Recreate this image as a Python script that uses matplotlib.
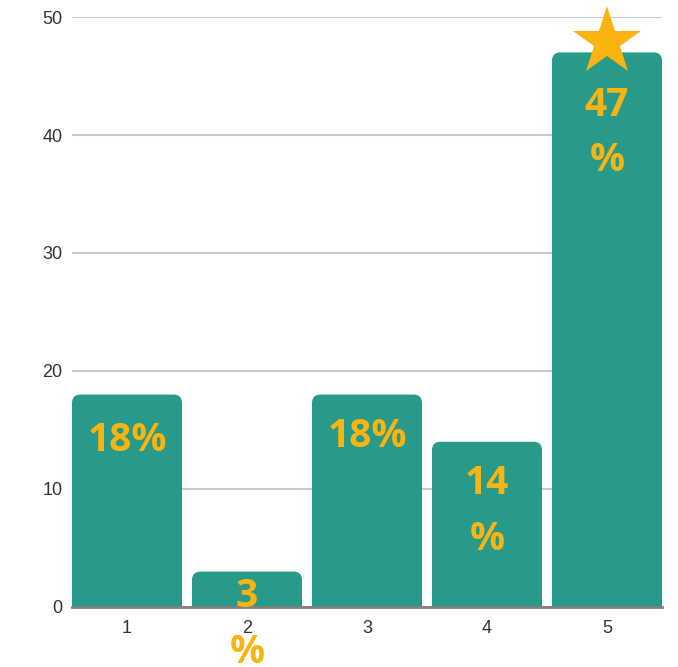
import matplotlib
matplotlib.use('Agg')
import matplotlib.pyplot as plt
from matplotlib.patches import FancyBboxPatch

# data
categories = [1, 2, 3, 4, 5]
values = [18, 3, 18, 14, 47]
labels = ['18%', '3\n%', '18%', '14\n%', '47\n%']

# label offset below bar top (points)
label_offsets = [19, 4, 16, 16, 24]

TEAL = '#279a89'
GOLD = '#fbb40f'

fig = plt.figure(figsize=(6.78, 6.67), dpi=100)
ax = fig.add_axes([0.1062, 0.09, 0.8702, 0.8845])

width = 110 / 120
ax.set_xlim(1 - 55 / 120, 5 + 55 / 120)
ax.set_ylim(0, 50)

# pixel aspect so the rounded corners stay round
aspect = (120 / 11.8)
for x, v in zip(categories, values):
    bar = FancyBboxPatch((x - width / 2, -2), width, v + 2,
                         boxstyle='round,pad=0,rounding_size=0.07',
                         mutation_aspect=aspect,
                         facecolor=TEAL, edgecolor='none', zorder=2)
    ax.add_patch(bar)

for x, v, lab, off in zip(categories, values, labels, label_offsets):
    ax.annotate(lab, (x, v), xytext=(0, -off), textcoords='offset points',
                ha='center', va='top', fontsize=28, fontweight='bold',
                family='Open Sans', color=GOLD, linespacing=1.55,
                zorder=4, annotation_clip=False)

# star on the highest bar
top = values.index(max(values))
ax.plot(categories[top], values[top] + 0.9, marker='*', markersize=52,
        color=GOLD, markeredgewidth=0, zorder=5, clip_on=False)

ax.set_yticks([0, 10, 20, 30, 40, 50])
ax.set_xticks(categories)
ax.grid(True, axis='y', color='#c8c8c8', linewidth=1.5, zorder=0)
ax.set_axisbelow(True)
for s in ['top', 'right', 'left']:
    ax.spines[s].set_visible(False)
ax.spines['bottom'].set_color('#808080')
ax.spines['bottom'].set_linewidth(2)
ax.spines['bottom'].set_zorder(3)
ax.tick_params(axis='both', length=0, labelsize=13, labelcolor='#333333',
               labelfontfamily='Liberation Sans')
ax.tick_params(axis='y', pad=7)
ax.tick_params(axis='x', pad=9.5)

plt.savefig('out.png', dpi=100)
plt.close()
